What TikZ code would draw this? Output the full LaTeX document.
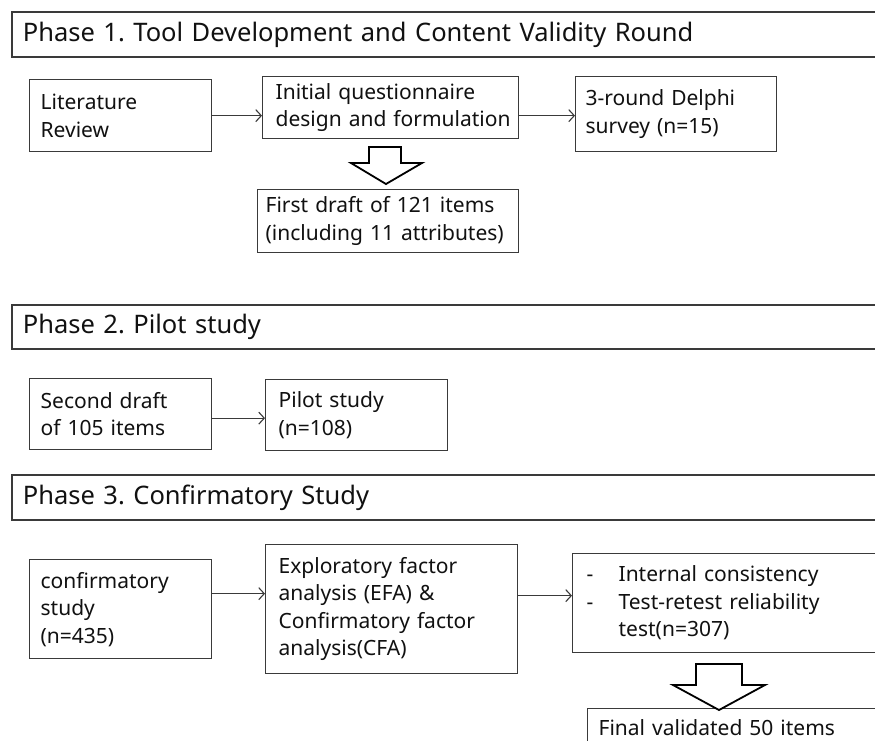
\documentclass[tikz,border=0pt]{standalone}
\usepackage{fontspec}
\setmainfont{Noto Sans}[WordSpace=1.35]
\usetikzlibrary{arrows.meta,calc}
\definecolor{ln}{HTML}{3A3A3A}
\definecolor{tx}{HTML}{111111}
\frenchspacing
\begin{document}
\begin{tikzpicture}[x=1pt,y=-1pt,
  box/.style={draw=ln, line width=1.3pt, rectangle, inner xsep=0pt, inner ysep=0pt,
    anchor=north west, align=left, text=tx, font=\fontsize{21}{27.5}\selectfont},
  head/.style={box, line width=1.8pt, font=\fontsize{25.5}{30}\selectfont},
  conn/.style={draw=ln, line width=1.1pt, -{Straight Barb[length=5.5pt,width=12pt]}},
  blockar/.style={draw=black, line width=1.8pt, fill=white, line join=miter}]
\useasboundingbox[fill=white] (0,0) rectangle (875,740);

% Phase 1
\node[head, minimum width=900pt, minimum height=45pt, text width=900pt] (h1) at (11,11)
  {\hspace*{11pt}Phase 1. Tool Development and Content Validity Round};
\node[box, minimum width=182pt, minimum height=72pt, text width=182pt] (lit) at (29,79)
  {\hspace*{11pt}Literature\\\hspace*{11pt}Review};
\node[box, minimum width=256pt, minimum height=62pt, text width=256pt] (init) at (262,76)
  {\hspace*{13pt}Initial questionnaire\\\hspace*{13pt}design and formulation};
\node[box, minimum width=201pt, minimum height=75pt, text width=201pt] (delphi) at (575,76)
  {\hspace*{10pt}3-round Delphi\\\hspace*{10pt}survey (n=15)};
\node[box, minimum width=261pt, minimum height=63pt, text width=261pt] (first) at (257,189)
  {\hspace*{8pt}First draft of 121 items\\\hspace*{8pt}(including 11 attributes)};
\draw[conn] (lit.east) -- (lit.east -| init.west);
\draw[conn] (init.east |- lit.east) -- (delphi.west |- lit.east);
\draw[blockar] (369,147) -- (401,147) -- (401,163) -- (422,163) -- (386,184)
  -- (351,163) -- (369,163) -- cycle;

% Phase 2
\node[head, minimum width=900pt, minimum height=44pt, text width=900pt] (h2) at (11,304)
  {\hspace*{11pt}Phase 2. Pilot study};
\node[box, minimum width=182pt, minimum height=71pt, text width=182pt] (sec) at (29,378)
  {\hspace*{11pt}Second draft\\\hspace*{11pt}of 105 items};
\node[box, minimum width=182pt, minimum height=71pt, text width=182pt] (pilot) at (265,379)
  {\hspace*{13pt}Pilot study\\\hspace*{13pt}(n=108)};
\draw[conn] ($(sec.east)+(0,4)$) -- ($(sec.east -| pilot.west)+(0,4)$);

% Phase 3
\node[head, minimum width=900pt, minimum height=45pt, text width=900pt] (h3) at (11,474)
  {\hspace*{11pt}Phase 3. Confirmatory Study};
\node[box, minimum width=182pt, minimum height=99pt, text width=182pt] (conf) at (29,559)
  {\hspace*{11pt}confirmatory\\\hspace*{11pt}study\\\hspace*{11pt}(n=435)};
\node[box, minimum width=252pt, minimum height=129pt, text width=252pt] (efa) at (265,544)
  {\hspace*{13pt}Exploratory factor\\\hspace*{13pt}analysis (EFA) \&\\\hspace*{13pt}Confirmatory factor\\\hspace*{13pt}analysis(CFA)};
\node[box, minimum width=340pt, minimum height=99pt, text width=340pt] (rel) at (572,553)
  {\hspace*{14pt}\makebox[32pt][l]{-}Internal consistency\\\hspace*{14pt}\makebox[32pt][l]{-}Test-retest reliability\\\hspace*{46pt}test(n=307)};
\node[box, minimum width=340pt, minimum height=38pt, text width=340pt] (final) at (587,708)
  {\hspace*{11pt}Final validated 50 items};
\draw[conn] ($(conf.east)+(0,-15.5)$) -- ($(conf.east -| efa.west)+(0,-15.5)$);
\draw[conn] ($(efa.east)+(0,-13.5)$) -- ($(efa.east -| rel.west)+(0,-13.5)$);
\draw[blockar] (696,664) -- (742,664) -- (742,685) -- (765,685) -- (719,710)
  -- (673,685) -- (696,685) -- cycle;
\end{tikzpicture}
\end{document}
